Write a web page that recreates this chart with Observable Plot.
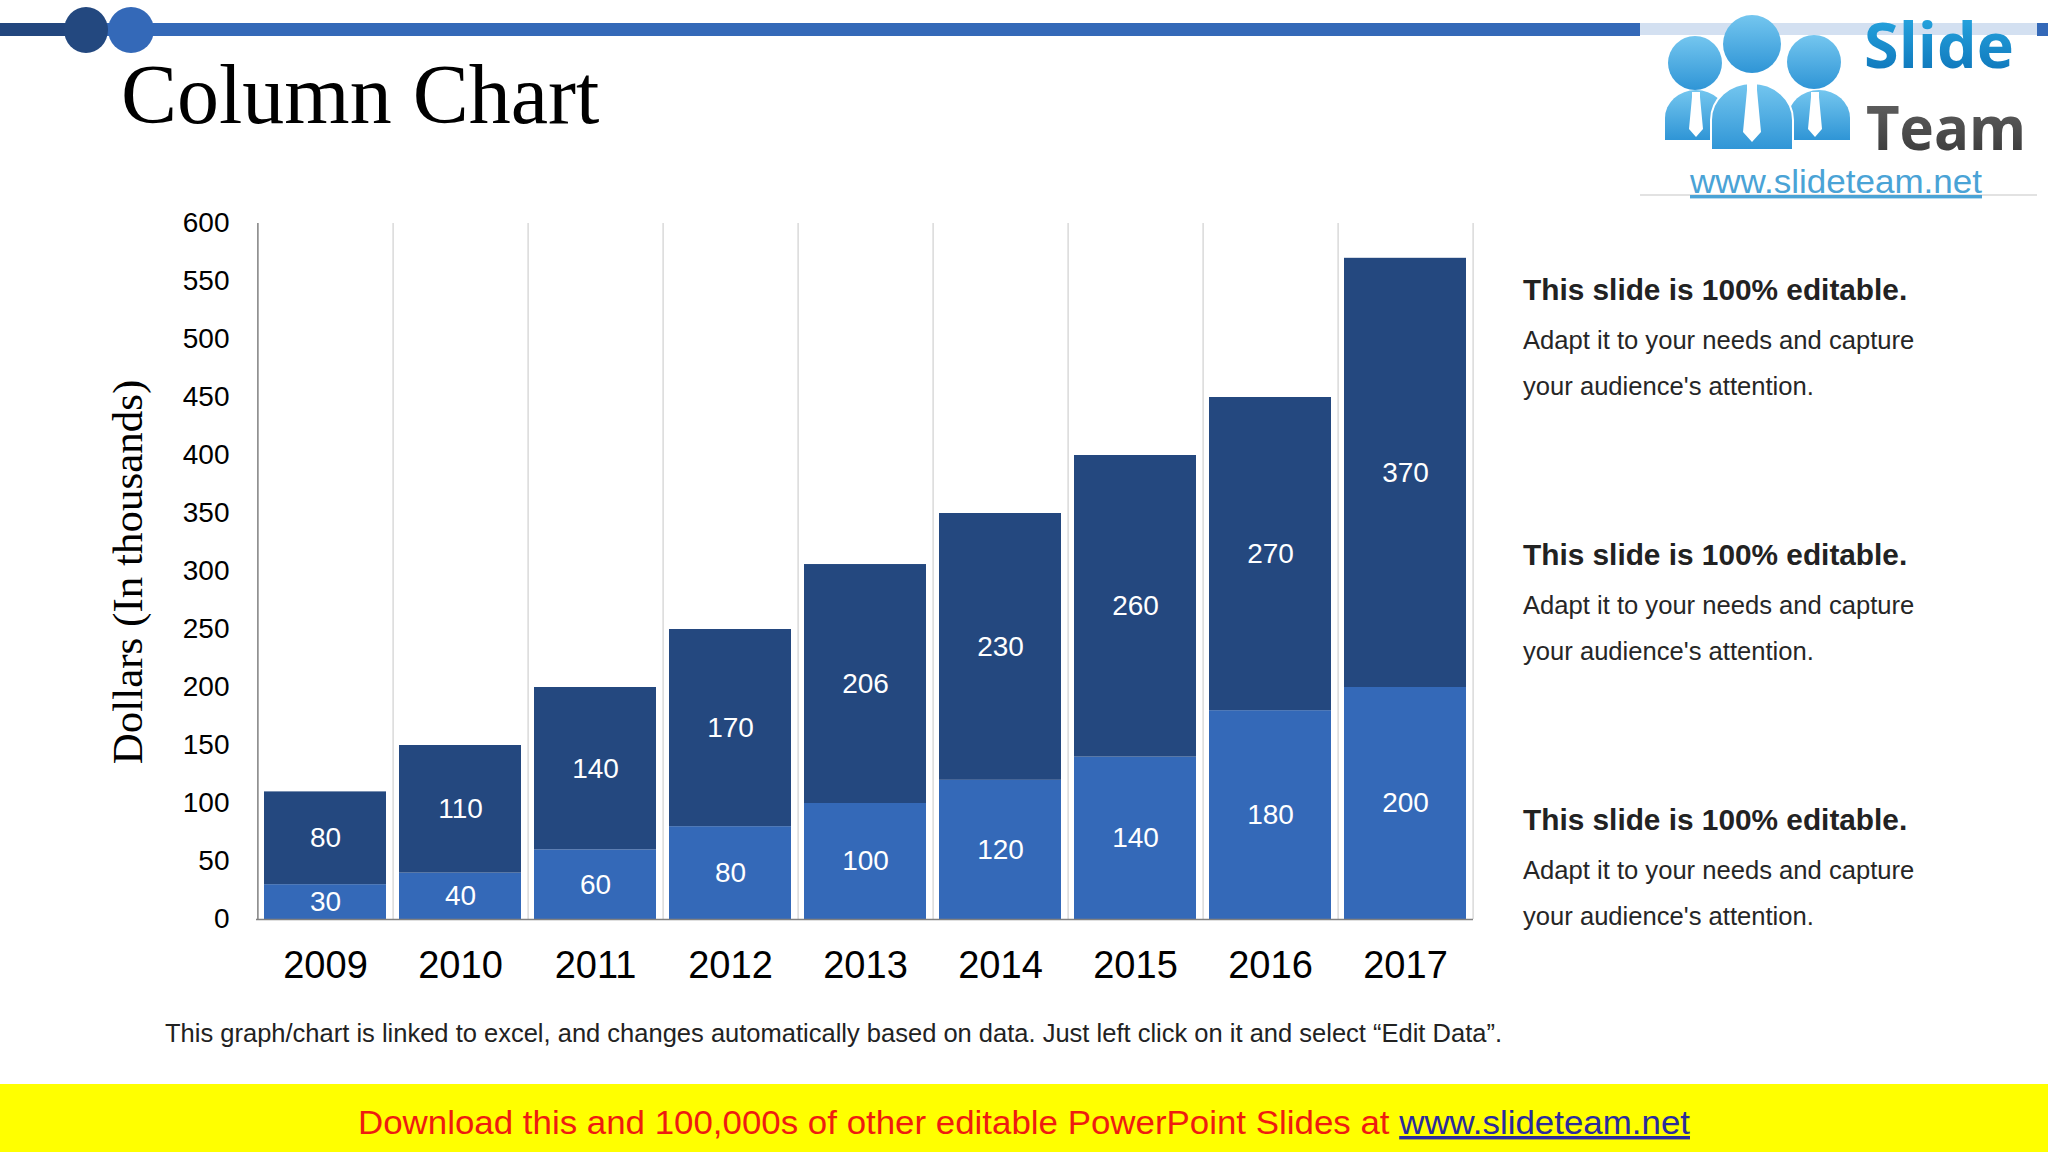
<!DOCTYPE html>
<html>
<head>
<meta charset="utf-8">
<script src="https://cdn.jsdelivr.net/npm/d3@7"></script>
<script src="https://cdn.jsdelivr.net/npm/@observablehq/plot@0.6"></script>
<style>
  html, body { margin: 0; padding: 0; background: #fff; }
  #page { position: relative; width: 2048px; height: 1152px; overflow: hidden; background: #fff; }
  #deco { position: absolute; left: 0; top: 0; }
  #chart { position: absolute; left: 0; top: 150px; }
  text { font-family: "Liberation Sans", Arial, sans-serif; }
</style>
</head>
<body>
<div id="page">
<svg id="deco" width="2048" height="1152" viewBox="0 0 2048 1152">
  <defs>
    <linearGradient id="pg" x1="0" y1="0" x2="0" y2="1">
      <stop offset="0" stop-color="#74c6ef"/>
      <stop offset="1" stop-color="#2f95d6"/>
    </linearGradient>
    <linearGradient id="sg" x1="0" y1="0" x2="0" y2="1">
      <stop offset="0" stop-color="#2cb0e8"/>
      <stop offset="1" stop-color="#0a6db3"/>
    </linearGradient>
    <linearGradient id="tg" x1="0" y1="0" x2="0" y2="1">
      <stop offset="0" stop-color="#6a6a6a"/>
      <stop offset="1" stop-color="#333"/>
    </linearGradient>
  </defs>
  <!-- header rule -->
  <rect x="0" y="23" width="2048" height="13" fill="#3469b8"/>
  <rect x="0" y="23" width="66" height="13" fill="#22467e"/>
  <ellipse cx="86" cy="30" rx="22" ry="23" fill="#23487f"/>
  <ellipse cx="131" cy="30" rx="23" ry="23" fill="#3469b8"/>
  <text x="121" y="123" style="font-family:'Liberation Serif','Times New Roman',serif;font-size:84px" fill="#000">Column Chart</text>

  <!-- logo -->
  <rect x="1640" y="10" width="397" height="186" fill="#fff"/>
  <rect x="1640" y="23" width="397" height="12" fill="#d3e0f1"/>
  <line x1="1640" y1="195" x2="2037" y2="195" stroke="#d8d8d8" stroke-width="1.5"/>
  <g fill="url(#pg)">
    <circle cx="1695" cy="63" r="27"/>
    <circle cx="1814" cy="62" r="27"/>
    <path d="M1665,140 V118 A31,28 0 0 1 1727,118 V140 Z"/>
    <path d="M1788,140 V118 A31,28 0 0 1 1850,118 V140 Z"/>
    <circle cx="1752" cy="44" r="29"/>
    <path d="M1711,150 V120 A41,37 0 0 1 1793,120 V150 Z" stroke="#fff" stroke-width="2"/>
  </g>
  <g fill="#fff">
    <path d="M1692,92 h8 v5 l3,32 l-7,8 l-7,-8 l3,-32 Z"/>
    <path d="M1811,92 h8 v5 l3,32 l-7,8 l-7,-8 l3,-32 Z"/>
    <path d="M1747,84 h10 v6 l4,42 l-9,10 l-9,-10 l4,-42 Z"/>
  </g>
  <text x="1864" y="68" textLength="150" lengthAdjust="spacingAndGlyphs" style="font-family:'Open Sans',sans-serif;font-weight:700;font-size:63px" fill="url(#sg)">Slide</text>
  <text x="1866" y="150" textLength="160" lengthAdjust="spacingAndGlyphs" style="font-family:'Open Sans',sans-serif;font-weight:700;font-size:61px" fill="url(#tg)">Team</text>
  <text x="1690" y="193" textLength="292" lengthAdjust="spacingAndGlyphs" style="font-size:34px" fill="#4aa3d6" text-decoration="underline">www.slideteam.net</text>

  <!-- y axis title -->
  <text transform="translate(142,572) rotate(-90)" text-anchor="middle" style="font-family:'Liberation Serif','Times New Roman',serif;font-size:43px" fill="#000">Dollars (In thousands)</text>

  <!-- right side notes -->
  <g id="notes"></g>

  <!-- caption -->
  <text x="165" y="1042" textLength="1337" lengthAdjust="spacingAndGlyphs" style="font-size:25.5px" fill="#222">This graph/chart is linked to excel, and changes automatically based on data. Just left click on it and select “Edit Data”.</text>

  <!-- banner -->
  <rect x="0" y="1084" width="2048" height="68" fill="#ffff00"/>
  <text x="358" y="1134" textLength="1332" lengthAdjust="spacingAndGlyphs" style="font-size:34px"><tspan fill="#ee1c10">Download this and 100,000s of other editable PowerPoint Slides at </tspan><tspan fill="#2b2b9c" text-decoration="underline">www.slideteam.net</tspan></text>
</svg>
<div id="chart"></div>
</div>
<script>
// ---- data ----
const years = ["2009", "2010", "2011", "2012", "2013", "2014", "2015", "2016", "2017"];
const seriesNames = ["Series 1", "Series 2"];
const series1Values = [30, 40, 60, 80, 100, 120, 140, 180, 200];
const series2Values = [80, 110, 140, 170, 206, 230, 260, 270, 370];
const yTicks = [0, 50, 100, 150, 200, 250, 300, 350, 400, 450, 500, 550, 600];
const noteTitle = "This slide is 100% editable.";
const noteLines = ["Adapt it to your needs and capture", "your audience's attention."];

// notes
const notes = document.getElementById("notes");
const NS = "http://www.w3.org/2000/svg";
[0, 1, 2].forEach(k => {
  const base = 300 + k * 265;
  const t = document.createElementNS(NS, "text");
  t.setAttribute("x", 1523); t.setAttribute("y", base);
  t.setAttribute("style", "font-size:29.8px;font-weight:700");
  t.setAttribute("fill", "#222");
  t.textContent = noteTitle;
  notes.appendChild(t);
  noteLines.forEach((line, j) => {
    const u = document.createElementNS(NS, "text");
    u.setAttribute("x", 1523); u.setAttribute("y", base + 49 + j * 46);
    u.setAttribute("style", "font-size:25.6px");
    u.setAttribute("fill", "#262626");
    u.textContent = line;
    notes.appendChild(u);
  });
});

// tidy table
const data = [];
years.forEach((yr, i) => {
  data.push({year: yr, series: seriesNames[0], value: series1Values[i]});
  data.push({year: yr, series: seriesNames[1], value: series2Values[i]});
});

const W = 1500, H = 860, ML = 256, MR = 27, MT = 73, MB = 91;
const step = (W - ML - MR) / years.length;

const chart = Plot.plot({
  width: W, height: H,
  marginLeft: ML, marginRight: MR, marginTop: MT, marginBottom: MB,
  style: {fontFamily: "'Liberation Sans', Arial, sans-serif", color: "#000", background: "transparent", overflow: "visible"},
  x: {domain: years, paddingInner: 0.1, paddingOuter: 0.05},
  y: {domain: [0, 600]},
  color: {domain: seriesNames, range: ["#3469b8", "#24487f"]},
  marks: [
    Plot.ruleX(years, {x: d => d, dx: step / 2, y1: 0, y2: 600, stroke: "#d9d9d9", strokeWidth: 1.5}),
    Plot.barY(data, {x: "year", y: "value", fill: "series"}),
    Plot.ruleX([years[0]], {x: d => d, dx: -step / 2, y1: 0, y2: 600, stroke: "#808080", strokeWidth: 1.5}),
    Plot.ruleY([0], {stroke: "#808080", strokeWidth: 1.5}),
    Plot.text(data, Plot.stackY({x: "year", y: "value", text: "value", fill: "white", fontSize: 28})),
    Plot.axisY({ticks: yTicks, tickSize: 0, tickPadding: 27, fontSize: 28, label: null}),
    Plot.axisX({tickSize: 0, tickPadding: 32, fontSize: 38, label: null})
  ]
});
document.getElementById("chart").appendChild(chart);
</script>
</body>
</html>
